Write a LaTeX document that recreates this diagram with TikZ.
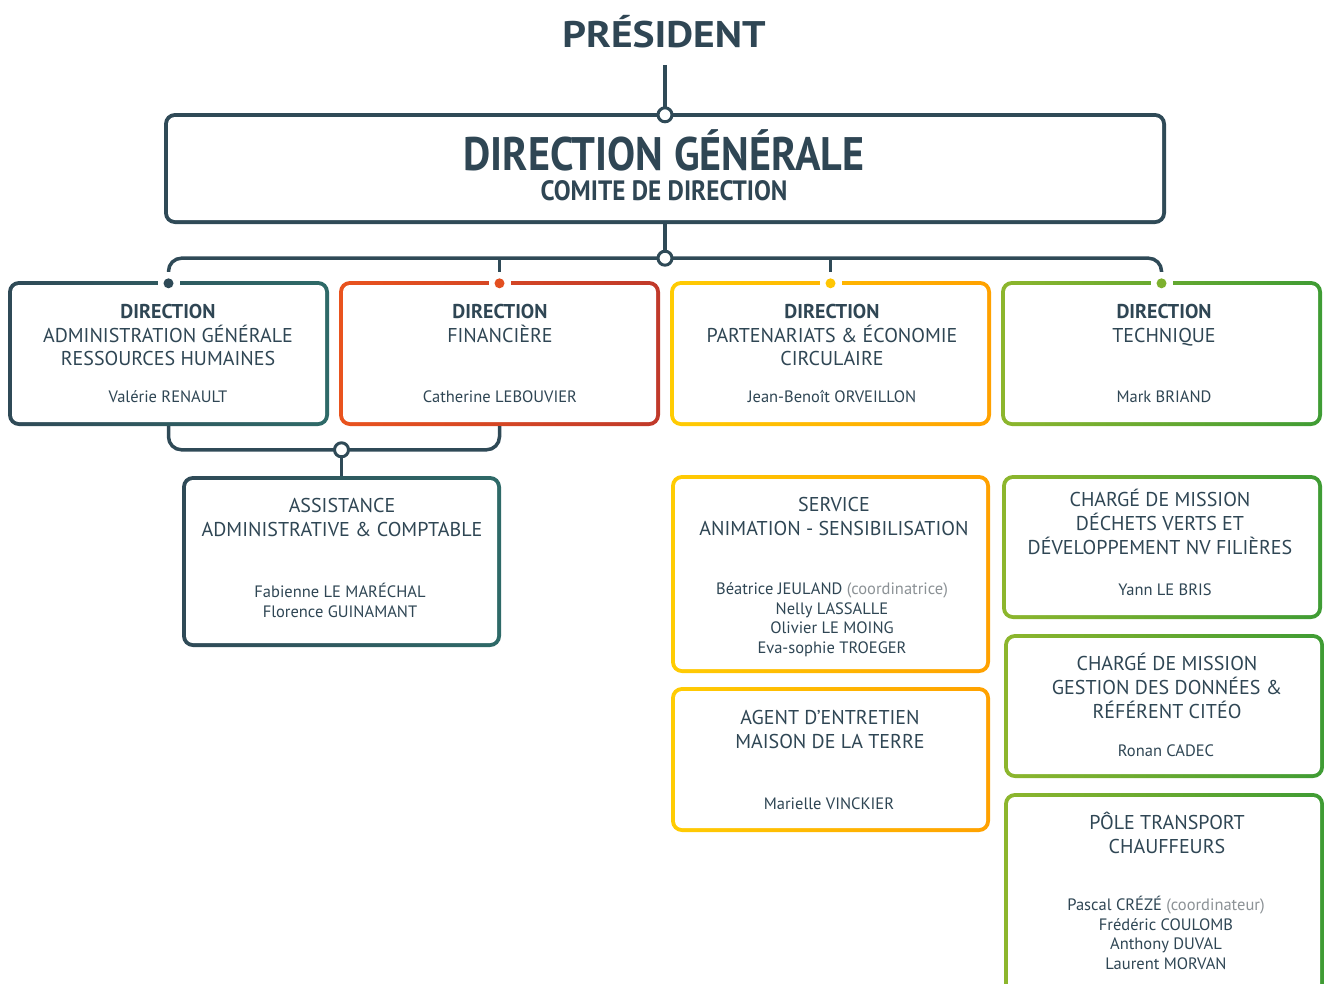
\documentclass[tikz,border=0pt]{standalone}
\usepackage{fontspec}
\setmainfont{PT Sans}
\newfontfamily\condfont{PT Sans}[FakeStretch=0.895]
\newfontfamily\semicondfont{PT Sans}[FakeStretch=0.9]
\newfontfamily\widefont{PT Sans}[FakeStretch=1.12]
\usetikzlibrary{calc}
\definecolor{slate}{HTML}{2F4A57}
\definecolor{slateR}{HTML}{2E6A68}
\definecolor{orgL}{HTML}{E9531E}
\definecolor{orgR}{HTML}{C0392A}
\definecolor{yelL}{HTML}{FFCC03}
\definecolor{yelR}{HTML}{FFA100}
\definecolor{grnL}{HTML}{8DB62D}
\definecolor{grnR}{HTML}{3F9C34}
\definecolor{txt}{HTML}{2F4654}
\definecolor{soft}{HTML}{8C9296}
\tikzset{
  gbox/.style 2 args={rectangle, rounded corners=11pt, inner sep=0pt,
    path picture={
      \shade[left color=#1, right color=#2] (path picture bounding box.south west) rectangle (path picture bounding box.north east);
      \fill[white, rounded corners=7pt] ([shift={(4pt,4pt)}]path picture bounding box.south west) rectangle ([shift={(-4pt,-4pt)}]path picture bounding box.north east);
    }},
  conn/.style={draw=slate, line width=3.5pt},
  ring/.style={circle, draw=slate, line width=3pt, fill=white, minimum size=14pt, inner sep=0pt},
  ttl/.style={font=\fontsize{20}{23.7}\selectfont, align=center, anchor=north, inner sep=0pt, text=txt, execute at begin node=\strut},
  nm/.style={font=\fontsize{16.5}{19.7}\selectfont, align=center, anchor=north, inner sep=0pt, text=txt, execute at begin node=\strut},
  head/.style={text=txt, inner sep=0pt, anchor=base},
}
\begin{document}
\begin{tikzpicture}[x=1pt,y=-1pt]
\useasboundingbox (0,0) rectangle (1325,983);
\clip (0,0) rectangle (1325,983);
% boxes
\node[gbox={slate}{slate}, minimum width=1002, minimum height=111] (dg) at (665,168.5) {};
\node[gbox={slate}{slateR}, minimum width=321, minimum height=145] (b1) at (168.5,353.5) {};
\node[gbox={orgL}{orgR}, minimum width=321, minimum height=145] (b2) at (499.5,353.5) {};
\node[gbox={yelL}{yelR}, minimum width=321, minimum height=145] (b3) at (830.5,353.5) {};
\node[gbox={grnL}{grnR}, minimum width=321, minimum height=145] (b4) at (1161.5,353.5) {};
\node[gbox={slate}{slateR}, minimum width=319, minimum height=171] (b5) at (341.5,561.5) {};
\node[gbox={yelL}{yelR}, minimum width=319, minimum height=198] (b6) at (830.5,574) {};
\node[gbox={yelL}{yelR}, minimum width=319, minimum height=145] (b7) at (830.5,759.5) {};
\node[gbox={grnL}{grnR}, minimum width=320, minimum height=144] (b8) at (1162,547) {};
\node[gbox={grnL}{grnR}, minimum width=320, minimum height=144] (b9) at (1164,706) {};
\node[gbox={grnL}{grnR}, minimum width=320, minimum height=207] (b10) at (1164,896.5) {};
% notches with dots
\foreach \b/\c in {b1/slate, b2/orgL!85!orgR, b3/yelL!85!yelR, b4/grnL!80!grnR}{
  \fill[white] ($(\b.north)+(-11,-1)$) rectangle ($(\b.north)+(11,6)$);
  \fill[\c] ($(\b.north)+(0,2.5)$) circle (5);
}
% title
\node[head, font=\widefont\fontsize{37}{40}\selectfont\bfseries] (pres) at (664,47.7) {PRÉSIDENT};
\coordinate (p1) at ($(dg.north)+(0,-48)$);
\coordinate (top) at ($(dg.north)+(0,2)$);
\coordinate (bus) at ($(dg.south)+(0,34)$);
\coordinate (c2) at ($(b5.north)+(0,-26)$);
% connectors
\draw[conn] (p1) -- (top);
\draw[conn] (dg.south) -- (bus);
\draw[conn, rounded corners=13pt] ($(b1.north)+(0,-9)$) |- (bus) -| ($(b4.north)+(0,-9)$);
\draw[conn] (b2.north |- bus) -- ($(b2.north)+(0,-9)$);
\draw[conn] (b3.north |- bus) -- ($(b3.north)+(0,-9)$);
\draw[conn, rounded corners=13pt] (b1.south) |- (c2) -| (b2.south);
\draw[conn] (c2) -- (b5.north);
\node[ring] (r1) at (top) {};
\node[ring] (r2) at (bus) {};
\node[ring] (r3) at (c2) {};
% DG texts
\node[head, font=\condfont\fontsize{47}{49}\selectfont\bfseries] (dgt) at (664,170) {DIRECTION GÉNÉRALE};
\node[head, font=\semicondfont\fontsize{28}{30}\selectfont\bfseries] (dgs) at (664,200.5) {COMITE DE DIRECTION};
% row 1
\node[ttl] (t1) at (168,304) {\textbf{DIRECTION}\\ADMINISTRATION GÉNÉRALE\\RESSOURCES HUMAINES};
\node[nm] (n1) at (168,388.5) {Valérie RENAULT};
\node[ttl] (t2) at (500,304) {\textbf{DIRECTION}\\FINANCIÈRE};
\node[nm] (n2) at (500,388.5) {Catherine LEBOUVIER};
\node[ttl] (t3) at (832,304) {\textbf{DIRECTION}\\PARTENARIATS \& ÉCONOMIE\\CIRCULAIRE};
\node[nm] (n3) at (832,388.5) {Jean-Benoît ORVEILLON};
\node[ttl] (t4) at (1164,304) {\textbf{DIRECTION}\\TECHNIQUE};
\node[nm] (n4) at (1164,388.5) {Mark BRIAND};
% lower boxes
\node[ttl] (t5) at (342,498.2) {ASSISTANCE\\ADMINISTRATIVE \& COMPTABLE};
\node[nm] (n5) at (340,583) {Fabienne LE MARÉCHAL\\Florence GUINAMANT};
\node[ttl] (t6) at (834,497.2) {SERVICE\\ANIMATION - SENSIBILISATION};
\node[nm] (n6) at (832,582.5) {Béatrice JEULAND {\color{soft}(coordinatrice)}\\Nelly LASSALLE\\Olivier LE MOING\\Eva-sophie TROEGER};
\node[ttl] (t7) at (830,710.2) {AGENT D’ENTRETIEN\\MAISON DE LA TERRE};
\node[nm] (n7) at (829,795) {Marielle VINCKIER};
\node[ttl] (t8) at (1160,489) {CHARGÉ DE MISSION\\DÉCHETS VERTS ET\\DÉVELOPPEMENT NV FILIÈRES};
\node[nm] (n8) at (1165,582) {Yann LE BRIS};
\node[ttl] (t9) at (1167,653) {CHARGÉ DE MISSION\\GESTION DES DONNÉES \&\\RÉFÉRENT CITÉO};
\node[nm] (n9) at (1166,742) {Ronan CADEC};
\node[ttl] (t10) at (1167,812) {PÔLE TRANSPORT\\CHAUFFEURS};
\node[nm] (n10) at (1166,896) {Pascal CRÉZÉ {\color{soft}(coordinateur)}\\Frédéric COULOMB\\Anthony DUVAL\\Laurent MORVAN};
\end{tikzpicture}
\end{document}
